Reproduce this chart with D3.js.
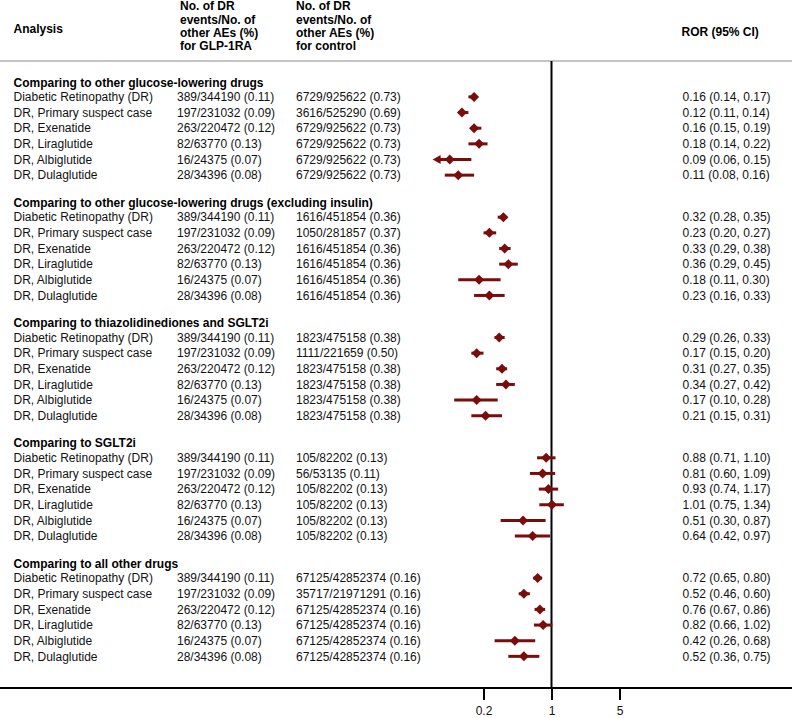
<!DOCTYPE html>
<html>
<head>
<meta charset="utf-8">
<script src="https://cdn.jsdelivr.net/npm/d3@7"></script>
<style>
  html, body { margin: 0; padding: 0; background: #fff; }
  svg { display: block; font-family: "Liberation Sans", Arial, Helvetica, sans-serif; }
</style>
</head>
<body>
<svg id="chart" width="793" height="718"></svg>
<script>
// ---------------- DATA ----------------
const groupTitles = [
  "Comparing to other glucose-lowering drugs",
  "Comparing to other glucose-lowering drugs (excluding insulin)",
  "Comparing to thiazolidinediones and SGLT2i",
  "Comparing to SGLT2i",
  "Comparing to all other drugs"
];
const analyses = [
  "Diabetic Retinopathy (DR)",
  "DR, Primary suspect case",
  "DR, Exenatide",
  "DR, Liraglutide",
  "DR, Albiglutide",
  "DR, Dulaglutide"
];
const glpCounts = [
  "389/344190 (0.11)",
  "197/231032 (0.09)",
  "263/220472 (0.12)",
  "82/63770 (0.13)",
  "16/24375 (0.07)",
  "28/34396 (0.08)"
];
const controlCounts = [
  ["6729/925622 (0.73)", "3616/525290 (0.69)", "6729/925622 (0.73)", "6729/925622 (0.73)", "6729/925622 (0.73)", "6729/925622 (0.73)"],
  ["1616/451854 (0.36)", "1050/281857 (0.37)", "1616/451854 (0.36)", "1616/451854 (0.36)", "1616/451854 (0.36)", "1616/451854 (0.36)"],
  ["1823/475158 (0.38)", "1111/221659 (0.50)", "1823/475158 (0.38)", "1823/475158 (0.38)", "1823/475158 (0.38)", "1823/475158 (0.38)"],
  ["105/82202 (0.13)", "56/53135 (0.11)", "105/82202 (0.13)", "105/82202 (0.13)", "105/82202 (0.13)", "105/82202 (0.13)"],
  ["67125/42852374 (0.16)", "35717/21971291 (0.16)", "67125/42852374 (0.16)", "67125/42852374 (0.16)", "67125/42852374 (0.16)", "67125/42852374 (0.16)"]
];
const rorValues = [
  [0.16, 0.12, 0.16, 0.18, 0.09, 0.11],
  [0.32, 0.23, 0.33, 0.36, 0.18, 0.23],
  [0.29, 0.17, 0.31, 0.34, 0.17, 0.21],
  [0.88, 0.81, 0.93, 1.01, 0.51, 0.64],
  [0.72, 0.52, 0.76, 0.82, 0.42, 0.52]
];
const rorLower = [
  [0.14, 0.11, 0.15, 0.14, 0.06, 0.08],
  [0.28, 0.20, 0.29, 0.29, 0.11, 0.16],
  [0.26, 0.15, 0.27, 0.27, 0.10, 0.15],
  [0.71, 0.60, 0.74, 0.75, 0.30, 0.42],
  [0.65, 0.46, 0.67, 0.66, 0.26, 0.36]
];
const rorUpper = [
  [0.17, 0.14, 0.19, 0.22, 0.15, 0.16],
  [0.35, 0.27, 0.38, 0.45, 0.30, 0.33],
  [0.33, 0.20, 0.35, 0.42, 0.28, 0.31],
  [1.10, 1.09, 1.17, 1.34, 0.87, 0.97],
  [0.80, 0.60, 0.86, 1.02, 0.68, 0.75]
];
const tickValues = [0.2, 1, 5];
const headerAnalysis = "Analysis";
const headerGlp = ["No. of DR", "events/No. of", "other AEs (%)", "for GLP-1RA"];
const headerCtrl = ["No. of DR", "events/No. of", "other AEs (%)", "for control"];
const headerRor = "ROR (95% CI)";
const arrowThreshold = 0.07; // CI lower bounds below this are drawn with an arrow

// ---------------- LAYOUT ----------------
const W = 793, H = 718;
const svg = d3.select("#chart");
const fmt = d3.format(".2f");
const red = "#7a0c0c";

const x = d3.scaleLog().domain([0.2, 5]).range([483.5, 619.5]);

const colLabel = 13.5, colGlp = 177, colCtrl = 296, colRor = 682.5;
const headerLineY = 61, axisY = 688;
const firstHeaderY = 82.3, groupStep = 120.3, rowOffset = 14.6, rowStep = 15.65;

const headerY = g => firstHeaderY + g * groupStep;
const rowY = (g, i) => headerY(g) + rowOffset + i * rowStep;

// Column headers
svg.append("text").attr("x", colLabel).attr("y", 28.5).attr("dy", "0.35em")
  .attr("font-size", 12).attr("font-weight", "bold").text(headerAnalysis);
headerGlp.forEach((t, k) => svg.append("text").attr("x", colGlp + 3).attr("y", 6 + k * 13.3)
  .attr("dy", "0.35em").attr("font-size", 12).attr("font-weight", "bold").text(t));
headerCtrl.forEach((t, k) => svg.append("text").attr("x", colCtrl).attr("y", 6 + k * 13.3)
  .attr("dy", "0.35em").attr("font-size", 12).attr("font-weight", "bold").text(t));
svg.append("text").attr("x", colRor - 1).attr("y", 32).attr("dy", "0.35em")
  .attr("font-size", 12).attr("font-weight", "bold").text(headerRor);

// Header separator
svg.append("line").attr("x1", 0).attr("x2", W - 1).attr("y1", headerLineY).attr("y2", headerLineY)
  .attr("stroke", "#c4c4c4").attr("stroke-width", 2);

// Reference line at 1
svg.append("line").attr("x1", x(1)).attr("x2", x(1)).attr("y1", headerLineY).attr("y2", axisY)
  .attr("stroke", "#000").attr("stroke-width", 2);

// Groups
groupTitles.forEach((title, g) => {
  svg.append("text").attr("x", colLabel).attr("y", headerY(g)).attr("dy", "0.35em")
    .attr("font-size", 12).attr("font-weight", "bold").text(title);

  analyses.forEach((lab, i) => {
    const y = rowY(g, i);
    svg.append("text").attr("x", colLabel).attr("y", y).attr("dy", "0.35em")
      .attr("font-size", 12).attr("fill", "#111").text(lab);
    svg.append("text").attr("x", colGlp).attr("y", y).attr("dy", "0.35em")
      .attr("font-size", 12).attr("fill", "#111").text(glpCounts[i]);
    svg.append("text").attr("x", colCtrl).attr("y", y).attr("dy", "0.35em")
      .attr("font-size", 12).attr("fill", "#111").text(controlCounts[g][i]);
    svg.append("text").attr("x", colRor).attr("y", y).attr("dy", "0.35em")
      .attr("font-size", 12).attr("fill", "#111")
      .text(`${fmt(rorValues[g][i])} (${fmt(rorLower[g][i])}, ${fmt(rorUpper[g][i])})`);

    const lo = rorLower[g][i], hi = rorUpper[g][i], v = rorValues[g][i];
    const arrow = lo < arrowThreshold;
    const x0 = x(lo) + (arrow ? 6 : 0);
    svg.append("line").attr("x1", x0).attr("x2", x(hi)).attr("y1", y).attr("y2", y)
      .attr("stroke", red).attr("stroke-width", 3);
    if (arrow) {
      const ax = x(lo);
      svg.append("path")
        .attr("d", `M${ax},${y} L${ax + 8},${y - 4.5} L${ax + 8},${y + 4.5} Z`)
        .attr("fill", red);
    }
    const cx = x(v), s = 5;
    svg.append("path")
      .attr("d", `M${cx - s},${y} L${cx},${y - s} L${cx + s},${y} L${cx},${y + s} Z`)
      .attr("fill", red);
  });
});

// Axis
svg.append("line").attr("x1", 0).attr("x2", W - 1).attr("y1", axisY).attr("y2", axisY)
  .attr("stroke", "#000").attr("stroke-width", 2);
const axis = d3.axisBottom(x).tickValues(tickValues).tickFormat(d3.format("~g"))
  .tickSize(12).tickPadding(6);
const gAxis = svg.append("g").attr("transform", `translate(0,${axisY})`).call(axis);
gAxis.select(".domain").remove();
gAxis.selectAll(".tick line").attr("stroke", "#000").attr("stroke-width", 2);
gAxis.selectAll(".tick text").attr("font-size", 12).attr("fill", "#111")
  .attr("font-family", "Liberation Sans, Arial, sans-serif");
</script>
</body>
</html>
